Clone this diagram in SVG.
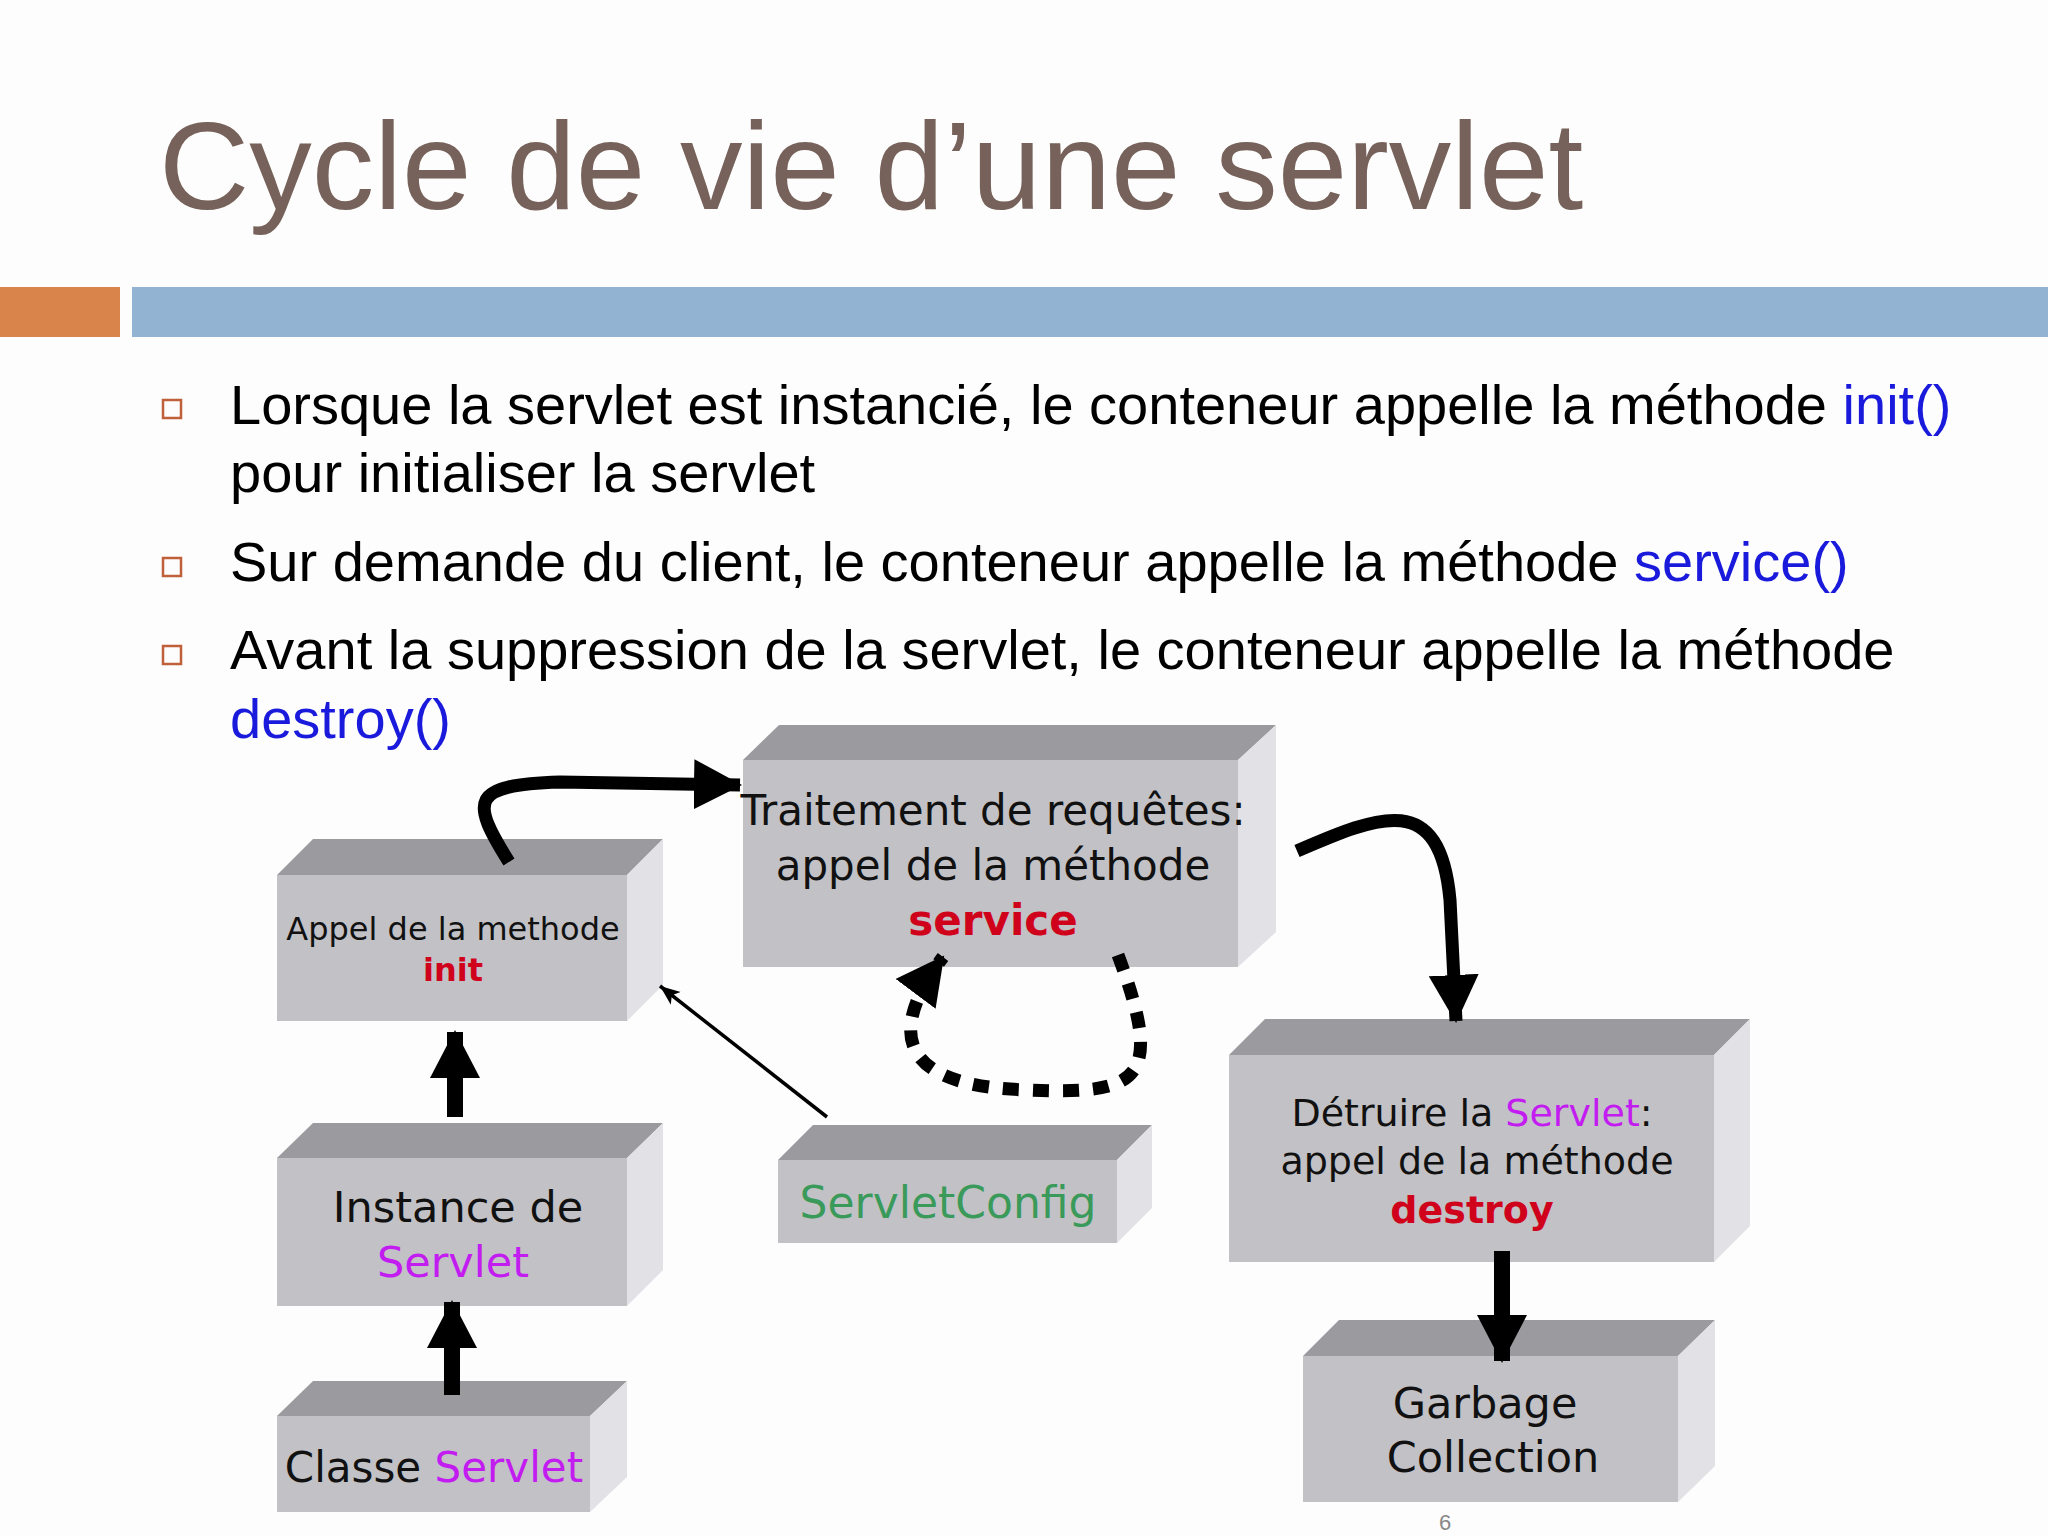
<svg xmlns="http://www.w3.org/2000/svg" width="2048" height="1536" viewBox="0 0 2048 1536">
<defs>
<style>
.bt{font-family:"Liberation Sans",Arial,sans-serif;font-size:56px;fill:#000}
.m{fill:#1a1adc}
.f{fill:#c2c1c6}.t{fill:#9b9a9e}.s{fill:#e2e1e6}
.d{font-family:"DejaVu Sans",sans-serif;text-anchor:middle;fill:#111}
.r{fill:#d0021b;font-weight:bold}.p{fill:#c21cf0}
.a{fill:none;stroke:#000}
</style>
<marker id="h" markerUnits="userSpaceOnUse" markerWidth="60" markerHeight="60" refX="46" refY="25" orient="auto"><path d="M0,0 L48,25 L0,50 Z" fill="#000"/></marker>
<marker id="hs" markerUnits="userSpaceOnUse" markerWidth="30" markerHeight="30" refX="20" refY="10" orient="auto"><path d="M0,2 L20,10 L0,18 L5,10 Z" fill="#000"/></marker>
</defs>
<rect width="2048" height="1536" fill="#fdfdfd"/>
<text x="159" y="209" font-family="Liberation Sans,Arial,sans-serif" font-size="125" fill="#76625a">Cycle de vie d’une servlet</text>
<rect x="0" y="287" width="120" height="50" fill="#d9844a"/>
<rect x="132" y="287" width="1916" height="50" fill="#93b3d3"/>
<g fill="none" stroke="#c0603a" stroke-width="2.5">
<rect x="163" y="400" width="18" height="18"/><rect x="163" y="558" width="18" height="18"/><rect x="163" y="646" width="18" height="18"/></g>
<text class="bt" x="230" y="424">Lorsque la servlet est instancié, le conteneur appelle la méthode <tspan class="m">init()</tspan></text>
<text class="bt" x="230" y="492">pour initialiser la servlet</text>
<text class="bt" x="230" y="581">Sur demande du client, le conteneur appelle la méthode <tspan class="m">service()</tspan></text>
<text class="bt" x="230" y="669">Avant la suppression de la servlet, le conteneur appelle la méthode</text>
<text class="bt" x="230" y="738"><tspan class="m">destroy()</tspan></text>

<g id="init"><polygon class="t" points="277,875 313,839 663,839 627,875"/><polygon class="s" points="627,875 663,839 663,985 627,1021"/><rect class="f" x="277" y="875" width="350" height="146"/>
<text class="d" x="453" y="940" font-size="32">Appel de la methode</text><text class="d r" x="453" y="981" font-size="32">init</text></g>
<g id="service"><polygon class="t" points="743,760 779,725 1276,725 1238,760"/><polygon class="s" points="1238,760 1276,725 1276,932 1238,967"/><rect class="f" x="743" y="760" width="495" height="207"/>
<text class="d" x="993" y="825" font-size="42">Traitement de requêtes:</text><text class="d" x="993" y="880" font-size="42">appel de la méthode</text><text class="d r" x="993" y="935" font-size="42">service</text></g>
<g id="instance"><polygon class="t" points="277,1158 313,1123 663,1123 627,1158"/><polygon class="s" points="627,1158 663,1123 663,1270 627,1306"/><rect class="f" x="277" y="1158" width="350" height="148"/>
<text class="d" x="458" y="1222" font-size="43">Instance de</text><text class="d p" x="453" y="1277" font-size="43">Servlet</text></g>
<g id="classe"><polygon class="t" points="277,1416 313,1381 627,1381 590,1416"/><polygon class="s" points="590,1416 627,1381 627,1477 590,1512"/><rect class="f" x="277" y="1416" width="313" height="96"/>
<text class="d" x="434" y="1482" font-size="42">Classe <tspan class="p">Servlet</tspan></text></g>
<g id="config"><polygon class="t" points="778,1160 813,1125 1152,1125 1117,1160"/><polygon class="s" points="1117,1160 1152,1125 1152,1208 1117,1243"/><rect class="f" x="778" y="1160" width="339" height="83"/>
<text class="d" x="948" y="1218" font-size="44" style="fill:#3a9a5a">ServletConfig</text></g>
<g id="destroy"><polygon class="t" points="1229,1055 1265,1019 1750,1019 1714,1055"/><polygon class="s" points="1714,1055 1750,1019 1750,1226 1714,1262"/><rect class="f" x="1229" y="1055" width="485" height="207"/>
<text class="d" x="1472" y="1126" font-size="38">Détruire la <tspan class="p">Servlet</tspan>:</text><text class="d" x="1477" y="1174" font-size="38">appel de la méthode</text><text class="d r" x="1472" y="1223" font-size="38">destroy</text></g>
<g id="gc"><polygon class="t" points="1303,1356 1339,1320 1715,1320 1678,1356"/><polygon class="s" points="1678,1356 1715,1320 1715,1466 1678,1502"/><rect class="f" x="1303" y="1356" width="375" height="146"/>
<text class="d" x="1485" y="1418" font-size="43">Garbage</text><text class="d" x="1493" y="1472" font-size="43">Collection</text></g>

<g id="connectors">
<path class="a" d="M455,1117 L455,1032" stroke-width="16" marker-end="url(#h)"/>
<path class="a" d="M452,1395 L452,1302" stroke-width="16" marker-end="url(#h)"/>
<path class="a" d="M1502,1251 L1502,1361" stroke-width="16" marker-end="url(#h)"/>
<path class="a" d="M509,862 C470,800 470,785 560,782 L740,785" stroke-width="13" marker-end="url(#h)"/>
<path class="a" d="M1297,851 C1380,815 1440,790 1450,900 L1456,1021" stroke-width="13" marker-end="url(#h)"/>
<path class="a" d="M1118,955 C1165,1080 1140,1095 1030,1090 C930,1088 870,1055 943,957" stroke-width="13" stroke-dasharray="16,14" marker-end="url(#h)"/>
<path class="a" d="M827,1117 L660,986" stroke-width="3.5" marker-end="url(#hs)"/>
</g>
<text x="1445" y="1530" font-family="Liberation Sans,sans-serif" font-size="22" fill="#888" text-anchor="middle">6</text>
</svg>
